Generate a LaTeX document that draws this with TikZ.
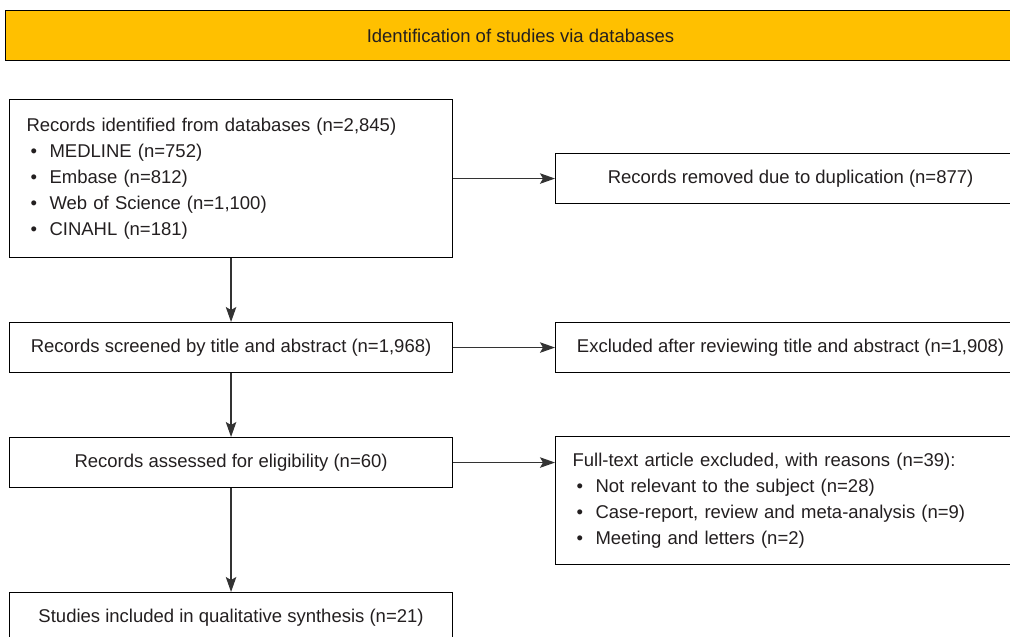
\documentclass[tikz,border=0pt]{standalone}
\usepackage{fontspec}
\setmainfont{Liberation Sans}
\usetikzlibrary{arrows.meta}
\definecolor{bannerfill}{HTML}{FFC000}
\definecolor{txt}{HTML}{231F20}
\definecolor{lnc}{HTML}{333333}
\newcommand{\myitem}{\hspace*{4pt}\makebox[19pt][l]{\textbullet}}
\begin{document}
\begin{tikzpicture}[x=1pt,y=-1pt,
  box/.style={draw=black, line width=1.1pt, fill=white, inner xsep=17pt, inner ysep=0pt,
    text=txt, font=\fontsize{18.5}{26}\selectfont, anchor=north west},
  arr/.style={draw=lnc, line width=1.2pt, -{Stealth[length=15pt,width=10.5pt,inset=3pt]}},
  bannerbox/.style={draw=black, line width=1pt, fill=bannerfill, inner sep=0pt,
    text=txt, font=\fontsize{18.5}{21}\selectfont, anchor=north west}
]
\useasboundingbox (0,0) rectangle (1010,637);
\clip (0,0) rectangle (1010,637);

\node[bannerbox, minimum width=1030, minimum height=50] (ban) at (5,10) {Identification of studies via databases};

\node[box, minimum width=443, minimum height=158, text width=409, align=left] (rec) at (9,99)
  {Records identified from databases (n=2,845)\\
   \myitem MEDLINE (n=752)\\
   \myitem Embase (n=812)\\
   \myitem Web of Science (n=1,100)\\
   \myitem CINAHL (n=181)};

\node[box, minimum width=470, minimum height=50] (rm) at (555,153)
  {Records removed due to duplication (n=877)};

\node[box, minimum width=443, minimum height=50] (scr) at (9,322)
  {Records screened by title and abstract (n=1,968)};

\node[box, minimum width=470, minimum height=50] (exc) at (555,322)
  {Excluded after reviewing title and abstract (n=1,908)};

\node[box, minimum width=443, minimum height=50] (elig) at (9,437)
  {Records assessed for eligibility (n=60)};

\node[box, minimum width=470, minimum height=128, text width=436, align=left] (ft) at (555,436)
  {Full-text article excluded, with reasons (n=39):\\
   \myitem Not relevant to the subject (n=28)\\
   \myitem Case-report, review and meta-analysis (n=9)\\
   \myitem Meeting and letters (n=2)};

\node[box, minimum width=443, minimum height=50] (inc) at (9,592)
  {Studies included in qualitative synthesis (n=21)};

\draw[arr] (rec.east) -- (rm.west);
\draw[arr] (rec.south) -- (scr.north);
\draw[arr] (scr.east) -- (exc.west);
\draw[arr] (scr.south) -- (elig.north);
\draw[arr] (elig.east) -- (elig.east -| ft.west);
\draw[arr] (elig.south) -- (inc.north);
\end{tikzpicture}
\end{document}
